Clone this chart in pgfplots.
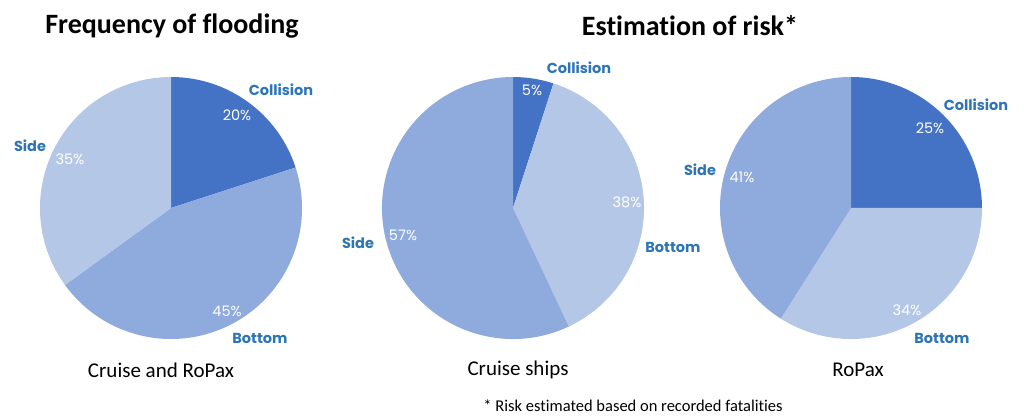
\documentclass[border=0pt]{standalone}
\usepackage{fontspec}
\setmainfont{Carlito}[Ligatures=NoCommon]
\newfontfamily\gothic{Poppins}
\usepackage{pgfplots}
\pgfplotsset{compat=1.18}
\definecolor{cdark}{HTML}{4472C4}
\definecolor{cmed}{HTML}{8FAADC}
\definecolor{clight}{HTML}{B4C7E7}
\definecolor{clab}{RGB}{46,117,182}
% slice: cx, cy, cumulative percent before, percent, colour
\newcommand\slice[5]{%
  \fill[#5] (axis cs:#1,#2) -- ([shift={({90-3.6*(#3)}:131bp)}]axis cs:#1,#2)
    arc[start angle={90-3.6*(#3)}, end angle={90-3.6*(#3+#4)}, radius=131bp] -- cycle;}
\newcommand\cat[3]{\node[text=clab,font=\gothic\bfseries\fontsize{14.5bp}{16bp}\selectfont] at (axis cs:#1,#2) {#3};}
\newcommand\pct[3]{\node[text=white,font=\gothic\fontsize{14.5bp}{16bp}\selectfont] at (axis cs:#1,#2) {#3\%};}
\begin{document}
\begin{tikzpicture}
\begin{axis}[
  width=1024bp, height=417bp, scale only axis,
  xmin=0, xmax=1024, ymin=0, ymax=417,
  axis lines=none, clip=false,
]
\path (axis cs:0,0) rectangle (axis cs:1024,417);
% Frequency of flooding: Cruise and RoPax (Collision 20, Bottom 45, Side 35)
\slice{171}{209}{0}{20}{cdark}
\slice{171}{209}{20}{45}{cmed}
\slice{171}{209}{65}{35}{clight}
% Cruise ships (Collision 5, Bottom 38, Side 57)
\slice{513}{209}{0}{5}{cdark}
\slice{513}{209}{5}{38}{clight}
\slice{513}{209}{43}{57}{cmed}
% RoPax (Collision 25, Bottom 34, Side 41)
\slice{851}{209}{0}{25}{cdark}
\slice{851}{209}{25}{34}{clight}
\slice{851}{209}{59}{41}{cmed}
% labels left
\cat{281}{327}{Collision}
\pct{237}{302}{20}
\cat{30}{271}{Side}
\pct{70}{258}{35}
\pct{227}{106}{45}
\cat{260}{79}{Bottom}
% labels middle
\cat{579}{349}{Collision}
\pct{532}{327}{5}
\pct{627}{215}{38}
\cat{673}{170}{Bottom}
\cat{358}{174}{Side}
\pct{403}{182}{57}
% labels right
\cat{976}{312}{Collision}
\pct{930}{289}{25}
\cat{700}{247}{Side}
\pct{742}{240}{41}
\pct{907}{107}{34}
\cat{942}{79}{Bottom}
% titles and captions
\node[font=\bfseries\fontsize{28bp}{32bp}\selectfont] at (axis cs:172,391) {Frequency of flooding};
\node[font=\bfseries\fontsize{28bp}{32bp}\selectfont] at (axis cs:690,391) {Estimation of risk*};
\node[font=\fontsize{21bp}{24bp}\selectfont] at (axis cs:161,47) {Cruise and RoPax};
\node[font=\fontsize{21bp}{24bp}\selectfont] at (axis cs:518,47) {Cruise ships};
\node[font=\fontsize{21bp}{24bp}\selectfont] at (axis cs:858,47) {RoPax};
\node[font=\fontsize{16.5bp}{19bp}\selectfont] at (axis cs:633,11) {* Risk estimated based on recorded fatalities};
\end{axis}
\end{tikzpicture}
\end{document}
